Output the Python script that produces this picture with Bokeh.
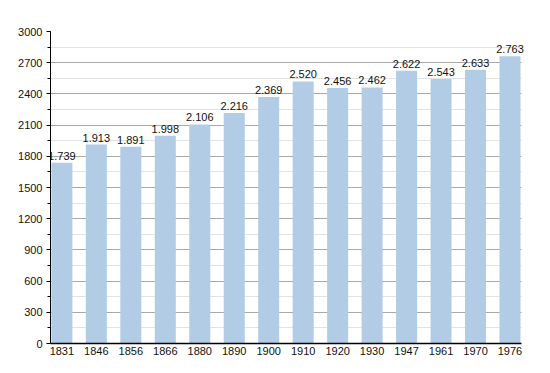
from bokeh.plotting import figure
from bokeh.models import ColumnDataSource, FixedTicker, Range1d, LabelSet
from bokeh.core.properties import value
from bokeh.embed import file_html
from bokeh.resources import INLINE

years = ["1831", "1846", "1856", "1866", "1880", "1890", "1900",
         "1910", "1920", "1930", "1947", "1961", "1970", "1976"]
population = [1739, 1913, 1891, 1998, 2106, 2216, 2369,
              2520, 2456, 2462, 2622, 2543, 2633, 2763]
value_labels = ["1.739", "1.913", "1.891", "1.998", "2.106", "2.216", "2.369",
                "2.520", "2.456", "2.462", "2.622", "2.543", "2.633", "2.763"]
y_ticks = [0, 300, 600, 900, 1200, 1500, 1800, 2100, 2400, 2700, 3000]

idx = list(range(len(years)))
src = ColumnDataSource(dict(x=idx, top=population, lab=value_labels))

FONT = "Liberation Sans"
x_lo, x_hi = -0.33, len(years) - 1 + 0.33

p = figure(width=542, height=365, output_backend="svg", toolbar_location=None,
           x_range=Range1d(x_lo, x_hi + 0.12), y_range=Range1d(0, 3000),
           min_border_left=50, min_border_top=31, min_border_right=17, min_border_bottom=22)
p.outline_line_color = None
p.background_fill_color = "white"

p.vbar(x="x", top="top", width=0.61, bottom=0, source=src,
       fill_color="#b2cce6", line_color=None)

labels = LabelSet(x="x", y="top", text="lab", source=src, text_align="center",
                  text_baseline="bottom", y_offset=3, text_font=value(FONT),
                  text_font_size=value("11px"), text_color="#111111",
                  level="overlay")
p.add_layout(labels)

# y axis
p.yaxis.ticker = FixedTicker(ticks=y_ticks, minor_ticks=list(range(0, 3001, 150)))
p.yaxis.major_tick_in = 0
p.yaxis.major_tick_out = 4
p.yaxis.minor_tick_in = 0
p.yaxis.minor_tick_out = 3
p.yaxis.axis_line_color = "black"
p.yaxis.major_tick_line_color = "black"
p.yaxis.minor_tick_line_color = "black"
p.yaxis.major_label_text_font = FONT
p.yaxis.major_label_text_font_size = "11px"
p.yaxis.major_label_text_color = "#111111"
p.yaxis.major_label_standoff = 4

# x axis
p.xaxis.ticker = FixedTicker(ticks=idx)
p.xaxis.major_label_overrides = {i: y for i, y in enumerate(years)}
p.xaxis.bounds = (x_lo, x_hi)
p.xaxis.major_tick_in = 0
p.xaxis.major_tick_out = 0
p.xaxis.minor_tick_line_color = None
p.xaxis.axis_line_color = "black"
p.xaxis.axis_line_width = 1.5
p.xaxis.major_label_text_font = FONT
p.xaxis.major_label_text_font_size = "11px"
p.xaxis.major_label_text_color = "#111111"
p.xaxis.major_label_standoff = 3

# grids
p.xgrid.grid_line_color = None
p.ygrid.grid_line_color = "#a8a8a8"
p.ygrid.minor_grid_line_color = "#e2e2e2"
p.ygrid.level = "underlay"
try:
    p.ygrid.cross_bounds = (x_lo, x_hi)
except Exception:
    pass

open("out.html", "w").write(file_html(p, INLINE))
